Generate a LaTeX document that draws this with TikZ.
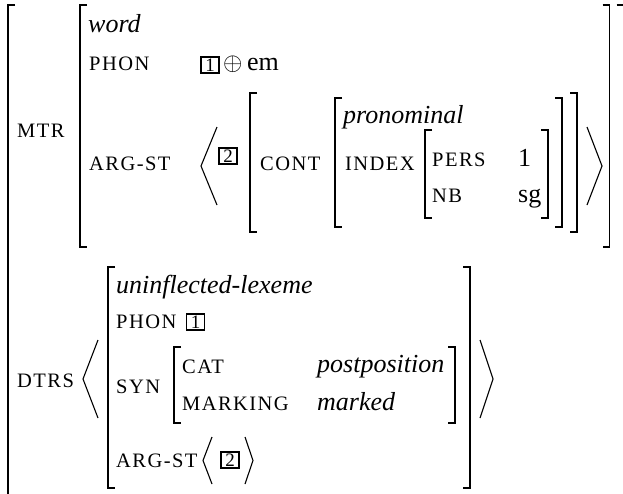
\documentclass[tikz,border=0pt]{standalone}
\usepackage{fontspec}
\setmainfont{Liberation Serif}
\newfontfamily\scfont[LetterSpace=7]{Liberation Serif}
\newcommand\avmLB[3]{\draw[br] ({#1+7},#2) -- (#1,#2) -- (#1,#3) -- ({#1+7},#3);}
\newcommand\avmRB[3]{\draw[br] ({#1-7},#2) -- (#1,#2) -- (#1,#3) -- ({#1-7},#3);}
\newcommand\avmLA[4]{\draw[ang] (#2,#3) -- (#1,{(#3+#4)/2}) -- (#2,#4);}
\newcommand\avmRA[4]{\draw[ang] (#1,#3) -- (#2,{(#3+#4)/2}) -- (#1,#4);}
\begin{document}
\begin{tikzpicture}[x=1pt,y=-1pt,
  br/.style={line width=1.3pt},
  ang/.style={line width=1.1pt},
  t/.style={anchor=base west,inner sep=0pt,font=\fontsize{26}{30}\selectfont},
  ti/.style={anchor=base west,inner sep=0pt,font=\fontsize{26}{30}\selectfont\itshape},
  a/.style={anchor=base west,inner sep=0pt,font=\scfont\fontsize{20.5}{24}\selectfont},
  tag/.style={draw,line width=1.3pt,inner sep=0pt,minimum width=18pt,minimum height=16pt,font=\fontsize{19}{19}\selectfont}]
\useasboundingbox (0,0) rectangle (623,493);
% outer brackets
\draw[br] (15,5) -- (8,5) -- (8,500);
\draw[br] (616.5,5) -- (624.5,5) -- (624.5,500);
% MTR
\node[a] (mtr) at (17,137) {MTR};
\avmLB{80}{5}{247}
\avmRB{609.5}{5}{247}
\node[ti] (word) at (88,32) {word};
\node[a] (phon1) at (89,70) {PHON};
\node[tag] (b1a) at (210,65) {1};
\node[t] (oplus) at (223,70) {$\oplus$};
\node[t] (em) at (247,70) {em};
\node[a] (argst1) at (89,170) {ARG-ST};
\avmLA{201}{217}{127}{205}
\node[tag] (b2a) at (228,156) {2};
\avmLB{250}{93}{232}
\node[a] (cont) at (260,170) {CONT};
\avmLB{335}{98}{227}
\node[ti] (pron) at (343,123) {pronominal};
\node[a] (index) at (345,170) {INDEX};
\avmLB{425}{130}{218}
\node[a] (pers) at (432,166) {PERS};
\node[t] (one) at (518,166) {1};
\node[a] (nb) at (432,202) {NB};
\node[t] (sg) at (518,202) {sg};
\avmRB{548}{130}{218}
\avmRB{562}{98}{227}
\avmRB{577}{93}{232}
\avmRA{587}{602}{127}{205}
% DTRS
\node[a] (dtrs) at (17,387) {DTRS};
\avmLA{83}{98}{340}{418}
\avmLB{108}{267}{488}
\avmRB{470}{267}{488}
\avmRA{480}{493}{340}{418}
\node[ti] (unl) at (116,293) {uninflected-lexeme};
\node[a] (phon2) at (116,328) {PHON};
\node[tag] (b1b) at (195.5,322) {1};
\node[a] (syn) at (116,393) {SYN};
\avmLB{174}{347}{423}
\avmRB{455}{347}{423}
\node[a] (cat) at (182,373) {CAT};
\node[ti] (postp) at (317,372) {postposition};
\node[a] (marking) at (182,410) {MARKING};
\node[ti] (marked) at (317,410) {marked};
\node[a] (argst2) at (116,467) {ARG-ST};
\avmLA{203}{212}{437}{484}
\node[tag] (b2b) at (230,460) {2};
\avmRA{245}{253}{437}{484}
\end{tikzpicture}
\end{document}
